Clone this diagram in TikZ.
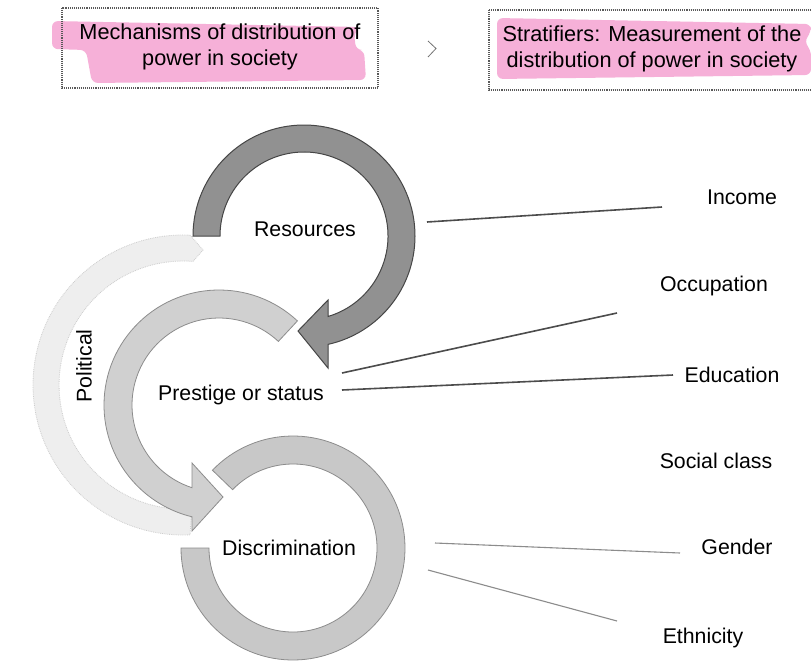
\documentclass[tikz,border=0pt]{standalone}
\usepackage{fontspec}
\setmainfont{Liberation Sans}
\definecolor{pinkhl}{RGB}{246,176,216}
\definecolor{resfill}{RGB}{145,145,145}
\definecolor{resline}{RGB}{70,70,70}
\definecolor{presfill}{RGB}{208,208,208}
\definecolor{discfill}{RGB}{200,200,200}
\definecolor{softline}{RGB}{140,140,140}
\definecolor{polfill}{RGB}{238,238,238}
\definecolor{polline}{RGB}{205,205,205}
\begin{document}
\begin{tikzpicture}[x=1pt,y=-1pt,
  lbl/.style={font=\fontsize{21.3}{27}\selectfont, inner sep=0pt, text height=15.3pt, text depth=0pt},
  boxtxt/.style={font=\fontsize{21.7}{26.5}\selectfont, inner sep=0pt, align=center},
  frame/.style={draw=black!65, line width=1.1pt, densely dotted},
  blob/.style={fill=pinkhl, rounded corners=6pt},
  darkconn/.style={draw=black!70, line width=1.6pt},
  lightconn/.style={draw=black!45, line width=1.1pt}]
\useasboundingbox (0,0) rectangle (811,662);
\fill[white] (0,0) rectangle (811,662);

% top boxes
\fill[blob] (52,21) -- (360,27) -- (354,33) -- (356,50) -- (364,50) -- (366,80) -- (92,83) -- (86,50) -- (52,49) -- cycle;
\draw[frame] (62,8) rectangle (378,88);
\fill[blob] (497,18) -- (811,24) -- (811,32) -- (804,42) -- (811,50) -- (811,75) -- (497,79) -- cycle;
\draw[frame] (489,10) -- (811,10);
\draw[frame] (489,10) -- (489,90) -- (811,90);
\node[boxtxt] (t1) at (220,47) {Mechanisms of distribution of\\power in society};
\node[boxtxt] (t2) at (652,49) {Stratifiers: Measurement of the\\distribution of power in society};
\draw[black!55, line width=0.8pt] (428,41) -- (436,48.5) -- (428,57);

% political arc (behind)
\filldraw[fill=polfill, draw=polline, line width=0.8pt, densely dotted]
  (183,385) ++(272.7:150) arc[start angle=272.7, end angle=87.3, radius=150]
  -- (191.7,508.7) arc[start angle=86, end angle=274.6, radius=124]
  -- (203,250) -- cycle;

% prestige arc
\filldraw[fill=presfill, draw=softline, line width=0.8pt]
  (219,405) ++(313:115) arc[start angle=313, end angle=103.6, radius=115]
  -- (192,531) -- (223,497) -- (192,463) -- (192,487.7)
  arc[start angle=108.1, end angle=313, radius=87] -- cycle;

% discrimination ring
\filldraw[fill=discfill, draw=softline, line width=0.8pt]
  (293,548) ++(224:112) arc[start angle=224, end angle=540, radius=112]
  -- (209,548) arc[start angle=540, end angle=224, radius=84] -- cycle;

% resources arc
\filldraw[fill=resfill, draw=resline, line width=1pt]
  (304,236) ++(180:111) arc[start angle=180, end angle=437.5, radius=111]
  -- (328,368) -- (298,331) -- (328,300) -- (328,316.5)
  arc[start angle=433.4, end angle=180, radius=84] -- cycle;

% labels
\node[lbl] (res) at (305,229) {Resources};
\node[lbl] (pres) at (241,393) {Prestige or status};
\node[lbl] (disc) at (289,548) {Discrimination};
\node[lbl, rotate=90] (pol) at (84,366) {Political};
\node[lbl] (inc) at (742,197) {Income};
\node[lbl] (occ) at (714,284) {Occupation};
\node[lbl] (edu) at (732,375) {Education};
\node[lbl] (soc) at (716,461) {Social class};
\node[lbl] (gen) at (737,547) {Gender};
\node[lbl] (eth) at (703,636) {Ethnicity};

% connectors
\coordinate (inc-a) at (427,222); \coordinate (inc-b) at (662,207);
\coordinate (occ-a) at (342,373); \coordinate (occ-b) at (617,313);
\coordinate (edu-a) at (342,390); \coordinate (edu-b) at (673,375);
\coordinate (gen-a) at (435,543); \coordinate (gen-b) at (680,553);
\coordinate (eth-a) at (428,570); \coordinate (eth-b) at (617,621);
\draw[darkconn] (inc-a) -- (inc-b);
\draw[darkconn] (occ-a) -- (occ-b);
\draw[darkconn] (edu-a) -- (edu-b);
\draw[lightconn] (gen-a) -- (gen-b);
\draw[lightconn] (eth-a) -- (eth-b);
\end{tikzpicture}
\end{document}
